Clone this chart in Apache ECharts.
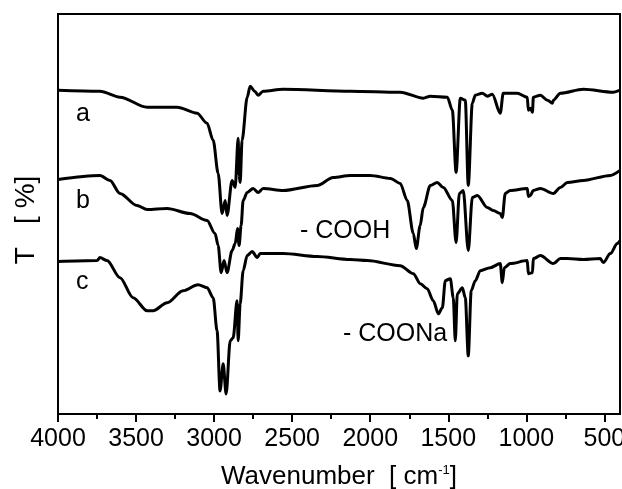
<!DOCTYPE html>
<html>
<head>
<meta charset="utf-8">
<script src="https://cdn.jsdelivr.net/npm/echarts@6/dist/echarts.min.js"></script>
<style>
  html, body { margin: 0; padding: 0; background: #fff; }
  #c1 { width: 622px; height: 489px; }
</style>
</head>
<body>
<div id="c1"></div>
<script>
// wavenumber (cm-1) and transmittance (arbitrary units, curves offset) for samples a, b, c
var wnA = [4000, 3731, 3603, 3429, 3237, 3109, 3045, 3006, 2974, 2949, 2929, 2917, 2885, 2865, 2846, 2840, 2833, 2821, 2788, 2769, 2740, 2718, 2686, 2558, 2128, 1808, 1660, 1615, 1506, 1474, 1450, 1423, 1391, 1372, 1346, 1327, 1282, 1250, 1218, 1167, 1148, 1058, 994, 987, 974, 961, 955, 910, 865, 833, 827, 782, 635, 442, 400];
var tA = [323, 322, 316, 306, 306, 300, 290, 273, 240, 200, 213, 198, 233, 226, 275, 238, 231, 273, 316, 327, 322, 318, 322, 324, 322, 321, 315, 317, 316, 303, 241, 315, 313, 228, 310, 318, 320, 317, 319, 300, 320, 320, 316, 303, 305, 301, 316, 318, 313, 310, 313, 320, 324, 321, 323];

var wnB = [4000, 3731, 3667, 3603, 3494, 3429, 3301, 3154, 3045, 2994, 2974, 2955, 2936, 2917, 2885, 2865, 2850, 2840, 2827, 2814, 2788, 2750, 2718, 2686, 2558, 2340, 2237, 2128, 2000, 1870, 1808, 1763, 1724, 1705, 1680, 1660, 1615, 1571, 1532, 1474, 1450, 1429, 1404, 1372, 1346, 1314, 1250, 1212, 1167, 1154, 1135, 1103, 994, 987, 974, 955, 910, 827, 782, 737, 635, 462, 400];
var tB = [234, 238, 233, 220, 208, 204, 205, 200, 193, 180, 168, 141, 153, 141, 163, 170, 185, 168, 188, 213, 221, 225, 221, 225, 223, 228, 236, 238, 238, 235, 230, 213, 180, 165, 188, 206, 228, 231, 226, 213, 171, 220, 223, 163, 216, 218, 206, 203, 200, 196, 220, 223, 225, 217, 218, 223, 225, 220, 226, 231, 233, 238, 243];

var wnC = [4000, 3750, 3731, 3686, 3603, 3519, 3429, 3391, 3301, 3199, 3103, 3045, 3006, 2981, 2962, 2942, 2923, 2897, 2878, 2853, 2846, 2833, 2814, 2788, 2756, 2724, 2705, 2558, 2340, 2128, 2019, 1808, 1724, 1679, 1635, 1596, 1564, 1538, 1519, 1487, 1468, 1455, 1442, 1410, 1391, 1372, 1353, 1327, 1295, 1231, 1167, 1154, 1141, 1103, 994, 987, 961, 955, 910, 827, 782, 737, 635, 526, 507, 462, 417, 400];
var tC = [152, 153, 156, 153, 136, 116, 103, 103, 111, 123, 129, 126, 116, 83, 23, 50, 20, 73, 76, 113, 73, 110, 143, 158, 162, 156, 160, 160, 157, 154, 153, 148, 140, 130, 125, 113, 100, 106, 133, 135, 116, 73, 120, 126, 116, 58, 123, 133, 143, 146, 150, 131, 146, 150, 153, 140, 141, 155, 158, 150, 155, 155, 154, 155, 151, 160, 170, 173];

var majorTicks = [4000, 3500, 3000, 2500, 2000, 1500, 1000, 500];
var minorTicks = [3750, 3250, 2750, 2250, 1750, 1250, 750];

function pairs(xs, ys) {
  return xs.map(function (x, i) { return [x, ys[i]]; });
}

var chartDom = document.getElementById("c1");
var myChart = echarts.init(chartDom);
var font = "Liberation Sans, Arial, sans-serif";
var lineStyle = { color: "#000", width: 3 };

var option = {
  animation: false,
  grid: {
    left: 58,
    right: 2,
    top: 14,
    bottom: 75,
    containLabel: false,
    outerBoundsMode: "none",
    show: true,
    borderColor: "#000",
    borderWidth: 2,
  },
  xAxis: [
    {
      type: "value",
      inverse: true,
      min: 400,
      max: 4000,
      position: "bottom",
      axisLine: { show: false },
      splitLine: { show: false },
      axisTick: {
        show: true,
        customValues: majorTicks,
        length: 8,
        lineStyle: { color: "#000", width: 2 },
      },
      axisLabel: {
        customValues: majorTicks,
        hideOverlap: false,
        showMinLabel: true,
        showMaxLabel: true,
        formatter: function (v) { return String(v); },
        color: "#000",
        fontSize: 25,
        fontFamily: font,
        margin: 13,
      },
      name: "{n|Wavenumber  [ cm}{s|-1}{n|]}",
      nameLocation: "middle",
      nameGap: 50,
      nameTextStyle: {
        rich: {
          n: { fontSize: 26, fontFamily: font, color: "#000" },
          s: { fontSize: 13, fontFamily: font, color: "#000", verticalAlign: "top", padding: [0, 0, 12, 0] },
        },
      },
    },
    {
      type: "value",
      inverse: true,
      min: 400,
      max: 4000,
      position: "bottom",
      axisLine: { show: false },
      splitLine: { show: false },
      axisTick: {
        show: true,
        customValues: minorTicks,
        length: 5,
        lineStyle: { color: "#000", width: 2 },
      },
      axisLabel: { show: false },
    },
  ],
  yAxis: {
    type: "value",
    min: 0,
    max: 399,
    axisLine: { show: false },
    axisTick: { show: false },
    axisLabel: { show: false },
    splitLine: { show: false },
  },
  graphic: [
    {
      type: "text", x: 26, y: 220, rotation: Math.PI / 2,
      style: { text: "T   [ %]", font: "28px " + font, fill: "#000", align: "center", verticalAlign: "middle" },
    },
    { type: "text", left: 76, top: 102, style: { text: "a", font: "25px " + font, fill: "#000" } },
    { type: "text", left: 76, top: 189, style: { text: "b", font: "25px " + font, fill: "#000" } },
    { type: "text", left: 76, top: 270, style: { text: "c", font: "25px " + font, fill: "#000" } },
    { type: "text", left: 300, top: 219, style: { text: "- COOH", font: "25px " + font, fill: "#000" } },
    { type: "text", left: 343, top: 322, style: { text: "- COONa", font: "25px " + font, fill: "#000" } },
  ],
  series: [
    { name: "a", type: "line", data: pairs(wnA, tA), showSymbol: false, smooth: 0.3, smoothMonotone: "x", lineStyle: lineStyle },
    { name: "b", type: "line", data: pairs(wnB, tB), showSymbol: false, smooth: 0.3, smoothMonotone: "x", lineStyle: lineStyle },
    { name: "c", type: "line", data: pairs(wnC, tC), showSymbol: false, smooth: 0.3, smoothMonotone: "x", lineStyle: lineStyle },
  ],
};
myChart.setOption(option);
window.addEventListener("resize", function () {
  myChart.resize();
});
</script>
</body>
</html>
